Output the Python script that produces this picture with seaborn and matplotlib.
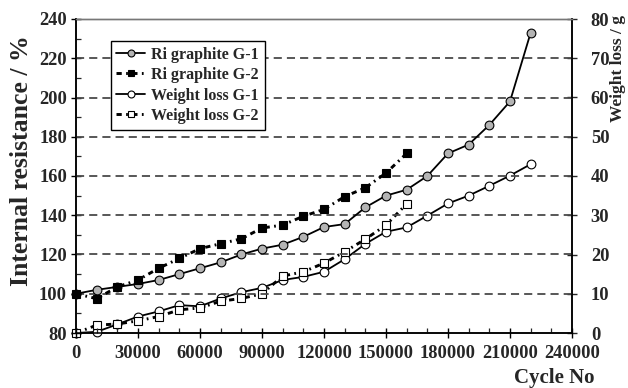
import numpy as np
import pandas as pd
import matplotlib
matplotlib.use("Agg")
import matplotlib.pyplot as plt
from matplotlib.ticker import MultipleLocator
from matplotlib.lines import Line2D
import seaborn as sns

# Internal resistance (%) and weight loss (g) against cycle count
cycles_g1 = list(range(0, 230000, 10000))
cycles_g2 = list(range(0, 170000, 10000))

ri_g1 = [100, 102, 103.5, 105, 107, 110, 113, 116, 120, 123, 125, 129,
         134, 135.5, 144, 150, 153, 160, 171.5, 176, 186, 198, 233]
ri_g2 = [100, 97.5, 103.5, 107, 113, 118, 123, 125.5, 128, 133.5, 135,
         139.5, 143, 149.5, 154, 161.5, 171.5]
wl_g1 = [0, 0.3, 2.2, 4.2, 5.5, 7.1, 6.8, 8.8, 10.4, 11.5, 13.5, 14.3,
         15.6, 18.8, 22.7, 25.8, 26.9, 29.9, 33, 35, 37.5, 40.1, 43]
wl_g2 = [0, 2.0, 2.3, 3.1, 4.2, 5.9, 6.4, 8.1, 8.8, 10, 14.5, 15.6,
         17.8, 20.7, 23.9, 27.5, 32.9]

labels = ["Ri graphite G-1", "Ri graphite G-2", "Weight loss G-1", "Weight loss G-2"]

df_g1 = pd.DataFrame({"cycle": cycles_g1, "ri": ri_g1, "wl": wl_g1})
df_g2 = pd.DataFrame({"cycle": cycles_g2, "ri": ri_g2, "wl": wl_g2})

sns.set_style("ticks")
plt.rcParams["font.family"] = ["Liberation Serif", "DejaVu Serif"]
plt.rcParams["font.weight"] = "bold"

fig = plt.figure(figsize=(6.28, 3.88), dpi=100)
ax = fig.add_axes([76 / 628, 1 - 333 / 388, 496 / 628, 314 / 388])
ax2 = ax.twinx()

solid_kw = dict(linestyle="-", linewidth=1.3, color="black", markersize=6.3,
                markeredgecolor="black", markeredgewidth=0.8)
dashdot = (0, (1.8, 1.5, 0.6, 1.5))
dash_kw = dict(linestyle=dashdot, linewidth=2.1, color="black", markersize=6,
               markeredgecolor="black", markeredgewidth=0.8)

sns.lineplot(data=df_g1, x="cycle", y="ri", ax=ax, marker="o",
             markerfacecolor="#b4b4b4", zorder=4, clip_on=False, **solid_kw)
sns.lineplot(data=df_g2, x="cycle", y="ri", ax=ax, marker="s",
             markerfacecolor="black", zorder=4, clip_on=False, **dash_kw)
sns.lineplot(data=df_g1, x="cycle", y="wl", ax=ax2, marker="o",
             markerfacecolor="white", zorder=4, clip_on=False, **solid_kw)
sns.lineplot(data=df_g2, x="cycle", y="wl", ax=ax2, marker="s",
             markerfacecolor="white", zorder=4, clip_on=False, **dash_kw)

ax.set_xlim(0, 240000)
ax.set_ylim(80, 240)
ax2.set_ylim(0, 80)

ax.xaxis.set_major_locator(MultipleLocator(30000))
ax.xaxis.set_minor_locator(MultipleLocator(10000))
ax.yaxis.set_major_locator(MultipleLocator(20))
ax.yaxis.set_minor_locator(MultipleLocator(10))
ax2.yaxis.set_major_locator(MultipleLocator(10))

ax.xaxis.set_major_formatter(matplotlib.ticker.FuncFormatter(lambda v, p: f"{int(v)}"))

tick_font = 13.3
ax.tick_params(axis="both", which="major", direction="inout", length=7, width=1,
               labelsize=tick_font, color="black")
ax.tick_params(axis="y", which="major", pad=3)
ax.tick_params(axis="x", which="major", pad=5)
ax.tick_params(axis="both", which="minor", direction="in", length=3.5, width=0.9)
ax2.tick_params(axis="y", which="major", direction="inout", length=7, width=1,
                labelsize=tick_font, pad=10)
for a in (ax, ax2):
    for lab in a.get_xticklabels() + a.get_yticklabels():
        lab.set_fontweight("bold")

# horizontal reference lines
for yv in range(100, 240, 20):
    ax.axhline(yv, color="#4a4a4a", linestyle=(0, (4.5, 2.8)), linewidth=1.3, zorder=1)

for a in (ax, ax2):
    for side in ("left", "bottom", "right"):
        a.spines[side].set_color("black")
        a.spines[side].set_linewidth(1.1)
    a.spines["top"].set_color("#777777")
    a.spines["top"].set_linewidth(1.0)

ax.set_xlabel("")
ax.set_ylabel("")
ax2.set_ylabel("")
ax.set_zorder(ax2.get_zorder() + 1)
ax.patch.set_visible(False)

handles = [
    Line2D([], [], marker="o", markerfacecolor="#b4b4b4", **solid_kw),
    Line2D([], [], marker="s", markerfacecolor="black", **dash_kw),
    Line2D([], [], marker="o", markerfacecolor="white", **solid_kw),
    Line2D([], [], marker="s", markerfacecolor="white", **dash_kw),
]
for h in handles:
    h.set_markersize(5)
leg = ax.legend(handles, labels, loc="upper left", bbox_to_anchor=(0.07, 0.93),
                borderaxespad=0, fancybox=False, frameon=True, framealpha=1,
                edgecolor="black", prop={"size": 11.5, "weight": "bold"},
                handlelength=1.8, handletextpad=0.4, labelspacing=0.28,
                borderpad=0.35)
leg.get_frame().set_linewidth(1.0)
leg.set_zorder(6)

fig.text(22 / 628, 1 - 161 / 388, "Internal resistance / %", rotation=90,
         ha="center", va="center", fontsize=18.5, fontweight="bold")
fig.text(618 / 628, 1 - 68 / 388, "Weight loss / g", rotation=90,
         ha="center", va="center", fontsize=12.5, fontweight="bold")
fig.text(595 / 628, 1 - 378 / 388, "Cycle No", ha="right", va="center",
         fontsize=15, fontweight="bold")

fig.savefig("out.png", dpi=100)
